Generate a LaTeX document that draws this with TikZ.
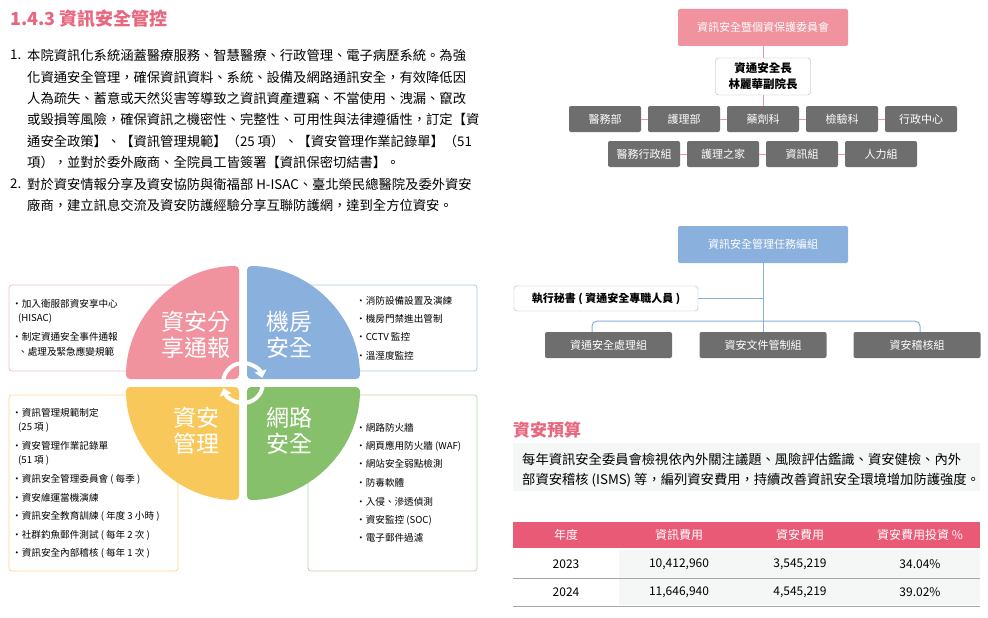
\documentclass[tikz,border=0pt]{standalone}
\usepackage{fontspec}
\setmainfont{Noto Sans CJK TC}
\usetikzlibrary{arrows.meta}
\definecolor{titlepink}{HTML}{E8677F}
\definecolor{piepink}{HTML}{F0939F}
\definecolor{pieblue}{HTML}{8AB0DE}
\definecolor{pieyellow}{HTML}{F9C85A}
\definecolor{piegreen}{HTML}{87C06A}
\definecolor{orggray}{HTML}{6E6E6E}
\definecolor{headpink}{HTML}{E85A76}
\definecolor{rowgray}{HTML}{F5F7F7}
\tikzset{
  bodyline/.style={anchor=west,inner sep=0pt,font=\fontsize{13.3}{15}\selectfont},
  itemline/.style={anchor=west,inner sep=0pt,font=\fontsize{9.6}{11}\selectfont},
  pielabel/.style={white,align=center,font=\fontsize{23}{26}\selectfont},
  sidebox/.style={draw=#1,rounded corners=3pt,line width=0.8pt,fill=white},
  grpbox/.style={fill=orggray,rounded corners=2pt,minimum width=72pt,minimum height=26pt,text=white,inner sep=0pt,font=\fontsize{11}{13}\selectfont},
  taskbox/.style={grpbox,minimum width=127pt},
  pinklink/.style={draw=piepink,line width=1pt},
  bluelink/.style={draw=pieblue,line width=1pt},
  cellt/.style={inner sep=0pt,font=\fontsize{12}{14}\selectfont},
}
\begin{document}
\begin{tikzpicture}[x=1pt,y=-1pt]
\useasboundingbox (0,0) rectangle (988,618);

% heading and text
\node[anchor=west,inner sep=0pt,text=titlepink,font=\bfseries\fontsize{18}{20}\selectfont] (title) at (10,19) {1.4.3 資訊安全管控};
\node[bodyline] (n1) at (10,55) {1.};
\node[bodyline] (p1) at (27,55) {本院資訊化系統涵蓋醫療服務、智慧醫療、行政管理、電子病歷系統。為強};
\node[bodyline] (p2) at (27,77) {化資通安全管理，確保資訊資料、系統、設備及網路通訊安全，有效降低因};
\node[bodyline] (p3) at (27,98) {人為疏失、蓄意或天然災害等導致之資訊資產遭竊、不當使用、洩漏、竄改};
\node[bodyline] (p4) at (27,119) {或毀損等風險，確保資訊之機密性、完整性、可用性與法律遵循性，訂定【資};
\node[bodyline] (p5) at (27,141) {通安全政策】、【資訊管理規範】（25 項）、【資安管理作業記錄單】（51};
\node[bodyline] (p6) at (27,162) {項），並對於委外廠商、全院員工皆簽署【資訊保密切結書】。};
\node[bodyline] (n2) at (10,184) {2.};
\node[bodyline] (p7) at (27,184) {對於資安情報分享及資安協防與衛福部 H-ISAC、臺北榮民總醫院及委外資安};
\node[bodyline] (p8) at (27,205) {廠商，建立訊息交流及資安防護經驗分享互聯防護網，達到全方位資安。};

% side boxes
\draw[sidebox=piepink!60] (9,285) rectangle (178,371);
\draw[sidebox=pieblue!70] (308,285) rectangle (477,371);
\draw[sidebox=pieyellow!70] (9,395) rectangle (178,571);
\draw[sidebox=piegreen!60] (308,395) rectangle (477,571);

% pie
\fill[piepink,rounded corners=4pt] (239,379) -- ++(180:113) arc[start angle=180,end angle=270,radius=113] -- cycle;
\fill[pieblue,rounded corners=4pt] (247,379) -- ++(0:113) arc[start angle=0,end angle=-90,radius=113] -- cycle;
\fill[pieyellow,rounded corners=4pt] (239,387) -- ++(180:113) arc[start angle=180,end angle=90,radius=113] -- cycle;
\fill[piegreen,rounded corners=4pt] (247,387) -- ++(0:113) arc[start angle=0,end angle=90,radius=113] -- cycle;
\coordinate (hub) at (243,383);
\draw[white,line width=4pt,-{Triangle[length=7pt,width=12pt]}] (hub) ++(185:20) arc[start angle=185,end angle=345,radius=20];
\draw[white,line width=4pt,-{Triangle[length=7pt,width=12pt]}] (hub) ++(5:20) arc[start angle=5,end angle=165,radius=20];
\node[pielabel] (share) at (196,335) {資安分\\享通報};
\node[pielabel] (room) at (289,335) {機房\\安全};
\node[pielabel] (mgmt) at (196,431) {資安\\管理};
\node[pielabel] (net) at (289,431) {網路\\安全};

% box items
\foreach \y/\t in {304/{・加入衛服部資安享中心},319/{\hspace{6pt}(HISAC)},337/{・制定資通安全事件通報},352/{\hspace{6pt}、處理及緊急應變規範}}
  \node[itemline] at (12,\y) {\t};
\foreach \y/\t in {301/{・消防設備設置及演練},319/{・機房門禁進出管制},337/{・CCTV 監控},356/{・溫溼度監控}}
  \node[itemline] at (356,\y) {\t};
\foreach \y/\t in {413/{・資訊管理規範制定},428/{\hspace{6pt}(25 項 )},446/{・資安管理作業記錄單},461/{\hspace{6pt}(51 項 )},479/{・資訊安全管理委員會 ( 每季 )},498/{・資安維運當機演練},516/{・資訊安全教育訓練 ( 年度 3 小時 )},535/{・社群釣魚郵件測試 ( 每年 2 次 )},553/{・資訊安全內部稽核 ( 每年 1 次 )}}
  \node[itemline] at (12,\y) {\t};
\foreach \y/\t in {428/{・網路防火牆},446/{・網頁應用防火牆 (WAF)},464/{・網站安全弱點檢測},483/{・防毒軟體},502/{・入侵、滲透偵測},520/{・資安監控 (SOC)},538/{・電子郵件過濾}}
  \node[itemline] at (356,\y) {\t};

% committee chart
\node[fill=piepink,rounded corners=2pt,minimum width=170pt,minimum height=37pt,text=white,font=\fontsize{11}{13}\selectfont] (board) at (763,27.5) {資訊安全暨個資保護委員會};
\node[draw=gray!60,rounded corners=3pt,fill=white,minimum width=95pt,minimum height=37pt,align=center,inner sep=0pt,font=\bfseries\fontsize{11.5}{16}\selectfont] (ciso) at (763,76.5) {資通安全長\\林麗華副院長};
\foreach \n/\x/\t in {medi/605/醫務部,nurse/684/護理部,pharm/763/藥劑科,lab/842/檢驗科,admin/921/行政中心}
  \node[grpbox] (\n) at (\x,119) {\t};
\foreach \n/\x/\t in {medadm/644/醫務行政組,home/723/護理之家,info/802/資訊組,hr/881/人力組}
  \node[grpbox] (\n) at (\x,154) {\t};
\draw[pinklink] (board) -- (ciso);
\draw[pinklink] (ciso) -- (pharm);
\draw[pinklink] (medi) -- (nurse) (nurse) -- (pharm) (pharm) -- (lab) (lab) -- (admin);
\draw[pinklink] (medadm) -- (home) (home) -- (info) (info) -- (hr);

% task force chart
\node[fill=pieblue,rounded corners=2pt,minimum width=170pt,minimum height=37pt,text=white,font=\fontsize{11}{13}\selectfont] (task) at (763,244.5) {資訊安全管理任務編組};
\node[draw=gray!60,rounded corners=3pt,fill=white,minimum width=184pt,minimum height=25pt,inner sep=0pt,font=\bfseries\fontsize{11}{13}\selectfont] (secr) at (606,298.5) {執行秘書 ( 資通安全專職人員 )};
\foreach \n/\x/\t in {handle/608.5/資通安全處理組,doc/763/資安文件管制組,audit/917/資安稽核組}
  \node[taskbox] (\n) at (\x,345) {\t};
\coordinate (bus) at (763,321);
\draw[bluelink] (task) -- (doc);
\draw[bluelink] (secr) -- (secr -| task);
\draw[bluelink,rounded corners=5pt] (handle.north -| 592,0) |- (bus) -| (audit.north -| 920,0);

% budget
\node[anchor=west,inner sep=0pt,text=titlepink,font=\bfseries\fontsize{17}{19}\selectfont] (budget) at (513,430) {資安預算};
\fill[rowgray] (513,443) rectangle (980,491);
\node[bodyline] (b1) at (522,459) {每年資訊安全委員會檢視依內外關注議題、風險評估鑑識、資安健檢、內外};
\node[bodyline] (b2) at (522,480) {部資安稽核 (ISMS) 等，編列資安費用，持續改善資訊安全環境增加防護強度。};
\fill[headpink] (513,522) rectangle (980,548);
\fill[rowgray] (619,550) rectangle (980,605);
\draw[gray!70,line width=1pt] (513,578) -- (980,578);
\draw[gray!70,line width=1pt] (513,606) -- (980,606);
\foreach \x/\t in {566/年度,679/資訊費用,800/資安費用,920/資安費用投資 \%}
  \node[cellt,text=white] at (\x,535) {\t};
\foreach \x/\a/\b in {566/2023/2024,679/{10,412,960}/{11,646,940},800/{3,545,219}/{4,545,219},920/34.04\%/39.02\%}{
  \node[cellt] at (\x,564) {\a};
  \node[cellt] at (\x,592) {\b};
}
\end{tikzpicture}
\end{document}
